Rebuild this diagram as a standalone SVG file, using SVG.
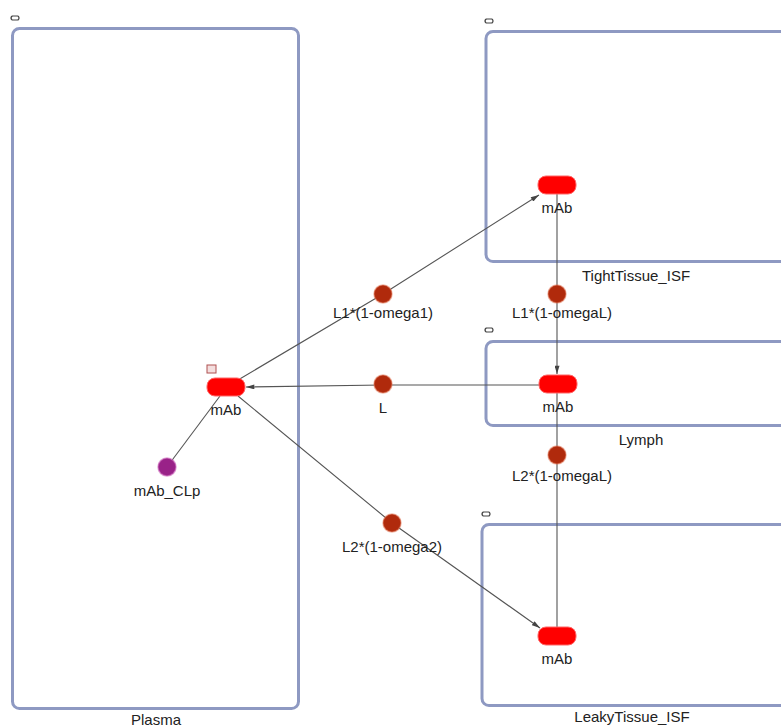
<svg xmlns="http://www.w3.org/2000/svg" width="781" height="727" viewBox="0 0 781 727">
<style>
.comp{fill:#fff;stroke:#8e99c2;stroke-width:3}
.lbl{font-family:"Liberation Sans",Arial,sans-serif;font-size:15px;fill:#222;text-anchor:middle}
.sp{fill:#ff0000;stroke:#ff6666;stroke-width:1}
.rx{fill:#b02a0c;stroke:#e07050;stroke-width:1.5;stroke-opacity:0.5}
.edge{stroke:#555;stroke-width:1.1;fill:none}
.icon{fill:none;stroke:#444;stroke-width:1.2}
</style>
<defs>
<marker id="arr" viewBox="0 0 10 6" refX="10" refY="3" markerWidth="9" markerHeight="5" markerUnits="userSpaceOnUse" orient="auto">
<path d="M0,0 L10,3 L0,6 Z" fill="#444"/>
</marker>
<path id="ic" d="M0,0 h6 M0,4 h6 M0,0 q-2,2 0,4 M6,0 q2,2 0,4"/>
</defs>
<rect width="781" height="727" fill="#fff"/>
<g id="Plasma">
<rect class="comp" x="12.5" y="28.5" width="286" height="680" rx="7"/>
<use href="#ic" class="icon" x="12" y="16"/>
<text class="lbl" x="156" y="725">Plasma</text>
</g>
<g id="TightTissue_ISF">
<rect class="comp" x="486" y="31.5" width="310" height="230" rx="7"/>
<use href="#ic" class="icon" x="486" y="19"/>
<text class="lbl" x="636" y="281">TightTissue_ISF</text>
</g>
<g id="Lymph">
<rect class="comp" x="486" y="341.5" width="310" height="84" rx="7"/>
<use href="#ic" class="icon" x="486" y="328"/>
<text class="lbl" x="641" y="445">Lymph</text>
</g>
<g id="LeakyTissue_ISF">
<rect class="comp" x="482" y="524.5" width="314" height="181" rx="7"/>
<use href="#ic" class="icon" x="483" y="512"/>
<text class="lbl" x="632" y="722">LeakyTissue_ISF</text>
</g>
<g id="connectors">
<path class="edge" d="M238,380 L383,294 L539,195" marker-end="url(#arr)"/>
<path class="edge" d="M557,194 L557,294 L557,374" marker-end="url(#arr)"/>
<path class="edge" d="M540,385 L383,385 L246,387" marker-end="url(#arr)"/>
<path class="edge" d="M238,396 L392,523 L540,628" marker-end="url(#arr)"/>
<path class="edge" d="M557,627 L557,455 L557,393"/>
<path class="edge" d="M220,396 L167,467"/>
</g>
<g id="mAb_plasma">
<rect class="sp" x="207" y="378" width="38" height="18" rx="8"/>
<rect x="207" y="365" width="9" height="8" fill="#f3dede" stroke="#b05050" stroke-width="1"/>
<text class="lbl" x="226" y="415">mAb</text>
</g>
<g id="mAb_tight">
<rect class="sp" x="538" y="176" width="38" height="18" rx="8"/>
<text class="lbl" x="557" y="213">mAb</text>
</g>
<g id="mAb_lymph">
<rect class="sp" x="539" y="375" width="38" height="18" rx="8"/>
<text class="lbl" x="558" y="412">mAb</text>
</g>
<g id="mAb_leaky">
<rect class="sp" x="538" y="627" width="38" height="18" rx="8"/>
<text class="lbl" x="557" y="664">mAb</text>
</g>
<g id="r_L1omega1">
<circle class="rx" cx="383" cy="294" r="9"/>
<text class="lbl" x="383" y="318">L1*(1-omega1)</text>
</g>
<g id="r_L1omegaL">
<circle class="rx" cx="557" cy="294" r="9"/>
<text class="lbl" x="562" y="318">L1*(1-omegaL)</text>
</g>
<g id="r_L">
<circle class="rx" cx="383" cy="384" r="9"/>
<text class="lbl" x="383" y="413">L</text>
</g>
<g id="r_L2omegaL">
<circle class="rx" cx="557" cy="455" r="9"/>
<text class="lbl" x="562" y="481">L2*(1-omegaL)</text>
</g>
<g id="r_L2omega2">
<circle class="rx" cx="392" cy="523" r="9"/>
<text class="lbl" x="392" y="552">L2*(1-omega2)</text>
</g>
<g id="mAb_CLp">
<circle cx="167" cy="467" r="9" fill="#992288" stroke="#cc66bb" stroke-width="1.5" stroke-opacity="0.6"/>
<text class="lbl" x="167" y="496">mAb_CLp</text>
</g>
</svg>
